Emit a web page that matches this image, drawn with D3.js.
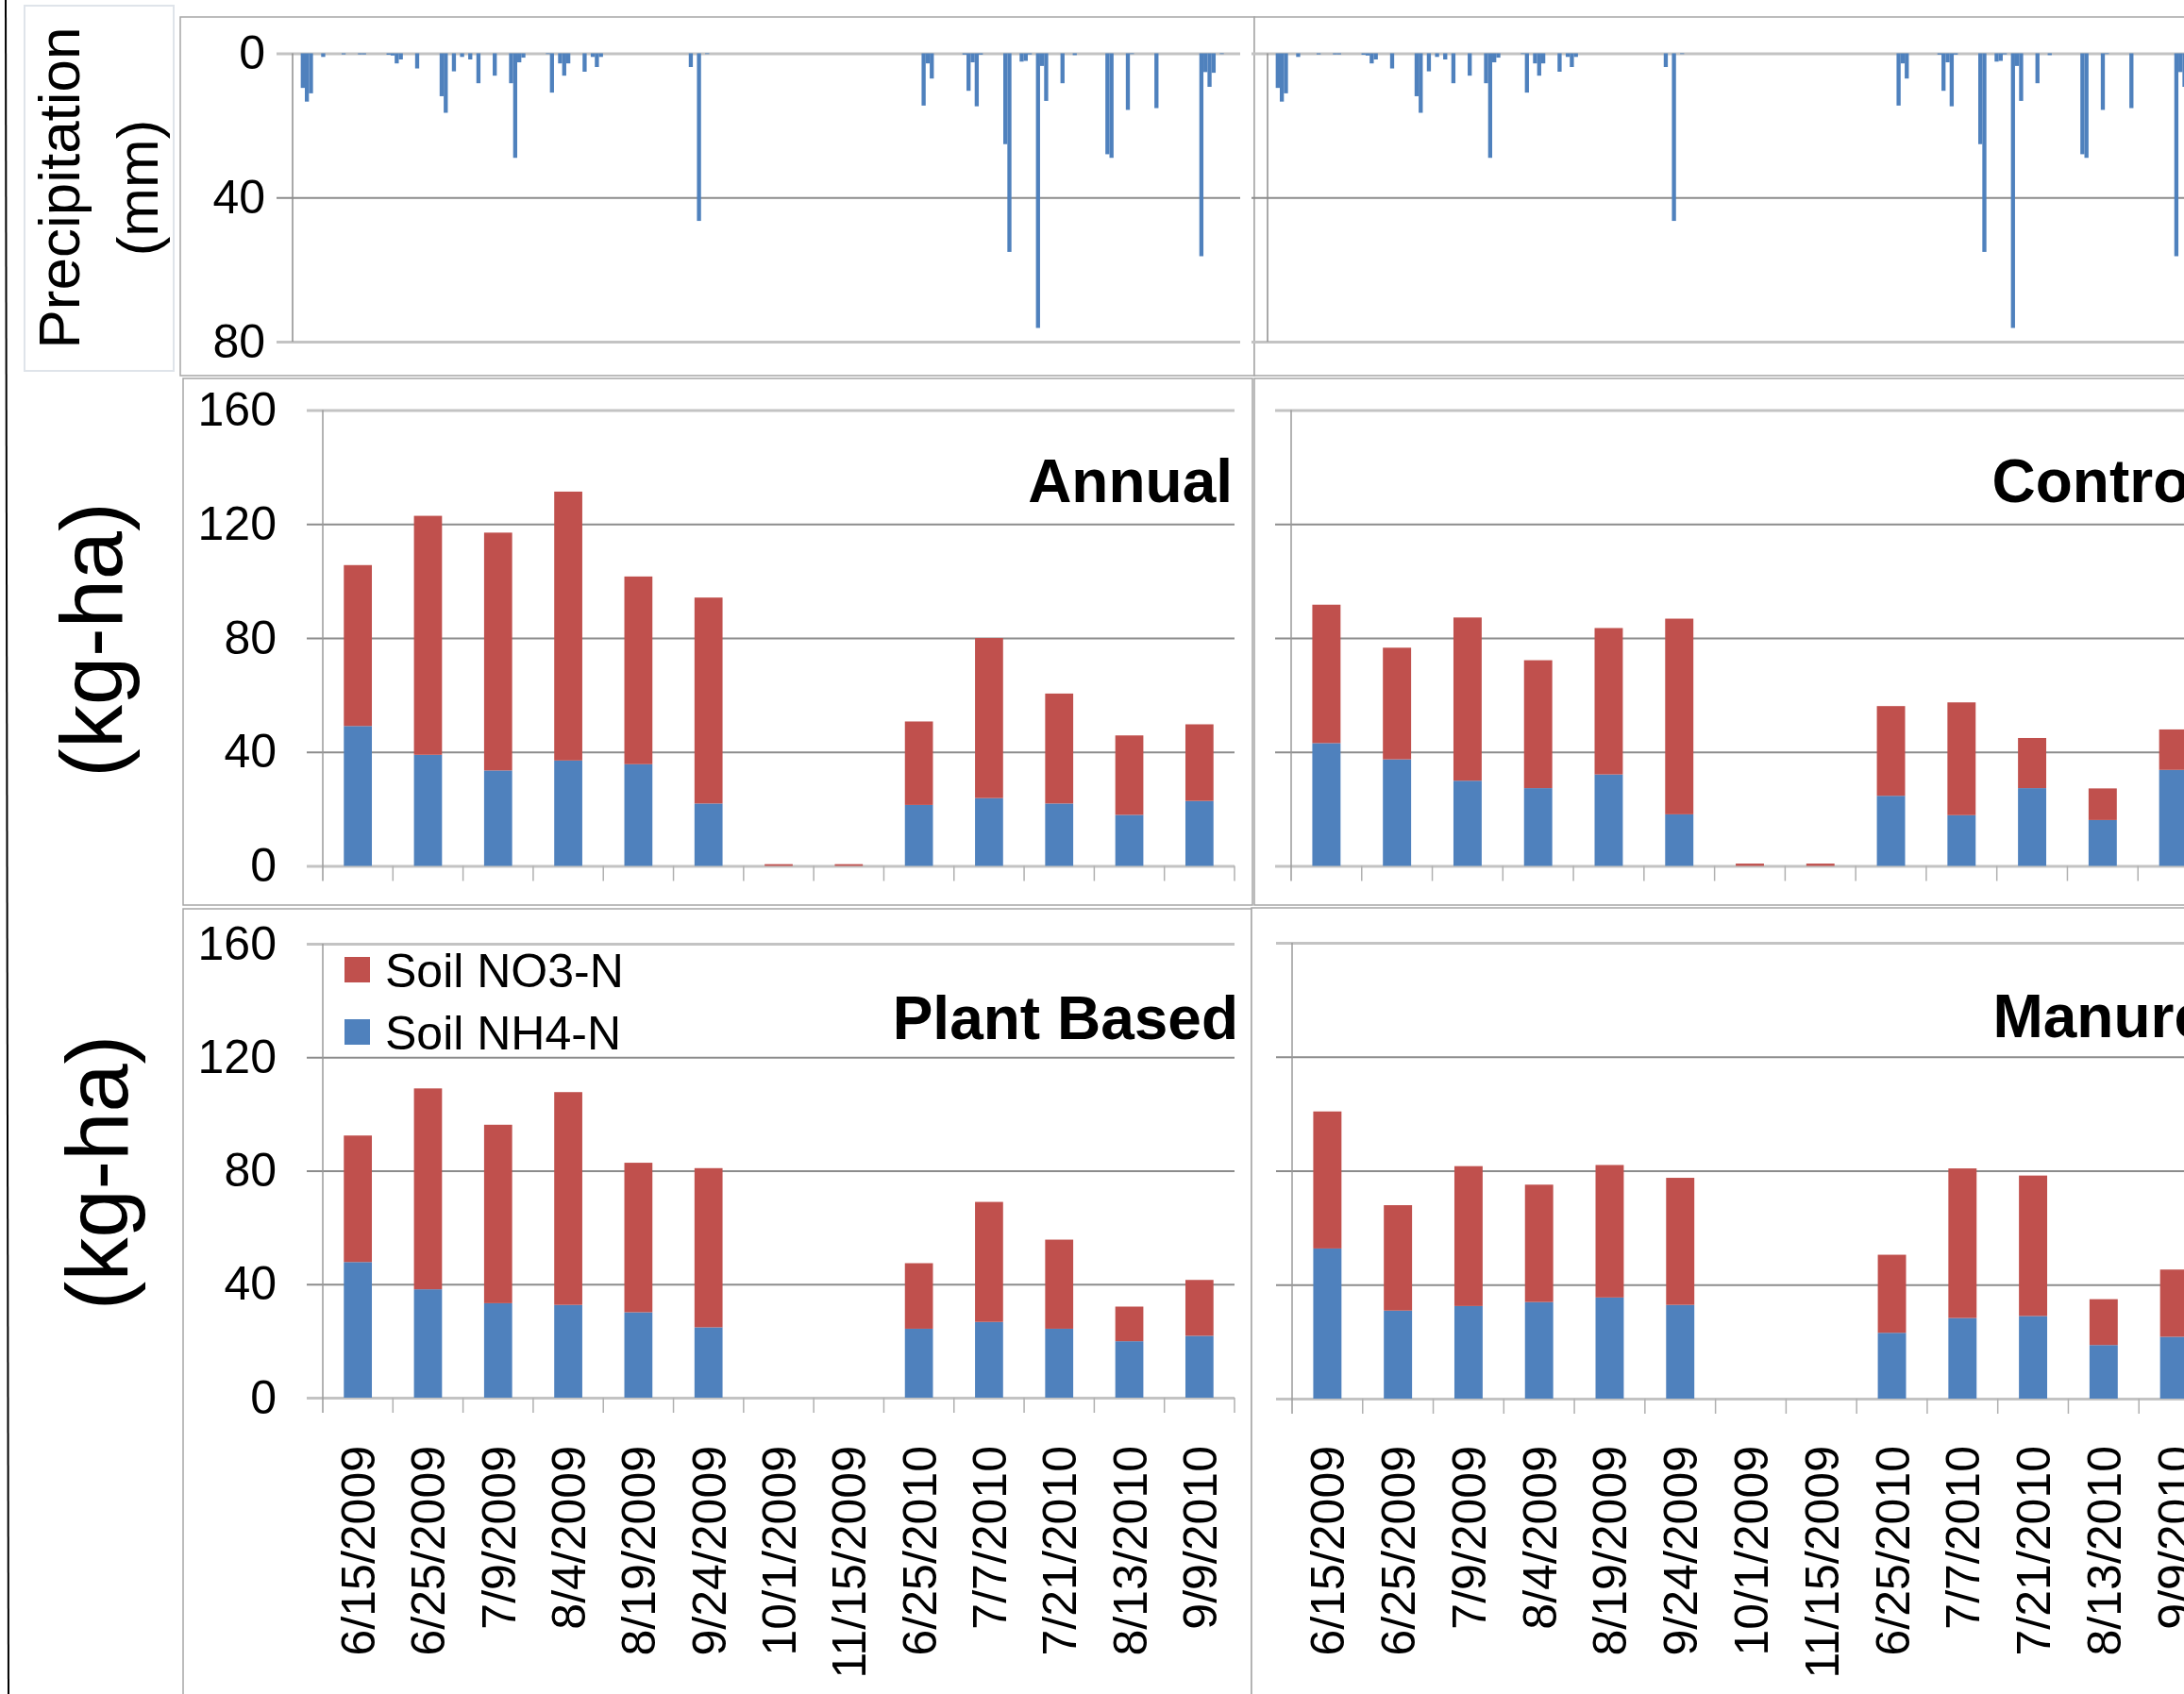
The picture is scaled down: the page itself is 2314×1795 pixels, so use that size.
<!DOCTYPE html>
<html>
<head>
<meta charset="utf-8">
<script src="https://cdn.jsdelivr.net/npm/d3@7/dist/d3.min.js"></script>
<style>
body { margin:0; background:#fff; }
svg { display:block; font-family:"Liberation Sans", Arial, sans-serif; }
</style>
</head>
<body>
<svg id="chart" width="2314" height="1795"></svg>
<script>
// sampling dates of the soil N measurements
var dates = ["6/15/2009","6/25/2009","7/9/2009","8/4/2009","8/19/2009","9/24/2009","10/1/2009","11/15/2009","6/25/2010","7/7/2010","7/21/2010","8/13/2010","9/9/2010"];

// soil N (kg-ha) by treatment
var annualNH4 = [49.1,39.0,33.5,37.0,35.7,21.9,0,0,21.4,23.8,21.9,17.9,22.8];
var annualNO3 = [56.5,83.9,83.5,94.4,65.9,72.3,0.6,0.6,29.3,56.2,38.6,27.9,26.9];
var controlNH4 = [43.1,37.4,29.9,27.3,32.1,18.1,0,0,24.6,17.8,27.3,16.1,33.7];
var controlNO3 = [48.6,39.2,57.3,44.9,51.4,68.7,0.8,0.8,31.5,39.6,17.6,11.1,14.2];
var plantNH4 = [47.8,38.2,33.3,32.7,30.1,24.8,0,0,24.3,26.7,24.3,19.9,21.8];
var plantNO3 = [44.6,70.8,62.9,75.0,52.7,56.1,0,0,23.1,42.3,31.4,12.2,19.7];
var manureNH4 = [52.7,30.9,32.5,33.9,35.5,32.9,0,0,23.1,28.3,29.0,18.8,21.7];
var manureNO3 = [48.1,37.0,49.1,41.2,46.5,44.6,0,0,27.4,52.5,49.3,16.1,23.6];

var seriesNames = ["Soil NO3-N","Soil NH4-N"];
var seriesColors = ["#C0504D","#4F81BD"];
var nTicks = [0,40,80,120,160];
var pTicks = [0,40,80];

// daily precipitation (mm), growing seasons 2009 and 2010
var precip = [
	0,0,9.6,13.4,11.1,0,0,1.0,0,0, 0,0,0.3,0,0,0,0.3,0.3,0,0,
	0,0,0,0.4,0.6,2.8,1.7,0,0,0, 4.2,0,0,0,0,0,11.9,16.5,0,5.0,
	0,1.0,0,1.7,0,8.3,0,0,0,6.2, 0,0,0,8.3,29.0,2.5,1.2,0,0,0,
	0,0,0.2,10.9,0,2.8,6.2,2.8,0,0, 0,5.1,0,1.0,3.8,1.0,0,0,0,0,
	0,0,0,0,0,0,0,0,0,0, 0,0,0,0,0,0,0,3.8,0,46.5,
	0,0.2,0,0,0,0,0,0,0,0, 0,0,0,0,0,0,0,0,0,0,
	0,0,0,0,0,0,0,0,0,0, 0,0,0,0,0,0,0,0,0,0,
	0,0,0,0,0,0,0,0,0,0, 0,0,0,0,14.5,2.8,7.0,0,0,0,
	0,0,0,0,0.35,10.4,2.5,14.7,0.35,0, 0,0,0,0,25.2,55.1,0,0,2.3,2.1,
	0.3,0,76.2,3.5,13.2,0,0,0,8.3,0, 0,0.5,0,0,0,0,0,0,0,28.0,
	29.0,0,0,0,15.7,0.2,0,0,0,0, 0,15.2,0,0,0,0,0,0,0,0,
	0,0,56.3,5.2,9.3,5.4,0,0.2,0,0, 0,0
];

var svg = d3.select("#chart");

// left border line of the figure
svg.append("line")
	.attr("x1",6).attr("y1",0).attr("x2",9).attr("y2",1795)
	.attr("stroke","#000").attr("stroke-width",2);

// precipitation label box
svg.append("rect")
	.attr("x",26).attr("y",6).attr("width",158).attr("height",387)
	.attr("fill","#fff").attr("stroke","#dfe4ea").attr("stroke-width",2);

var plab = svg.append("g").attr("transform","translate(0,199) rotate(-90)");
plab.append("text").attr("x",0).attr("y",84).attr("text-anchor","middle")
	.attr("font-size","62px").text("Precipitation");
plab.append("text").attr("x",0).attr("y",167).attr("text-anchor","middle")
	.attr("font-size","62px").text("(mm)");

function styleGrid(g){
	g.select(".domain").remove();
	g.selectAll(".tick line")
		.attr("stroke", function(d,i,n){ return (i==0 || i==n.length-1) ? "#c3c3c3" : "#8c8c8c"; })
		.attr("stroke-width", function(d,i,n){ return (i==0 || i==n.length-1) ? 3 : 2; });
	g.selectAll(".tick text").attr("fill","#000");
}

// precipitation panels
var precipPanels = [
	{frame:[191,18,1138,380], x0:310, labels:true},
	{frame:[1329,18,1100,380], x0:1343, labels:false}
];

precipPanels.forEach(function(p){
	var g = svg.append("g");
	g.append("rect")
		.attr("x",p.frame[0]).attr("y",p.frame[1]).attr("width",p.frame[2]).attr("height",p.frame[3])
		.attr("fill","#fff").attr("stroke","#a6a6a6").attr("stroke-width",1.5);

	var x = d3.scaleBand().domain(d3.range(precip.length)).range([p.x0, p.x0+1004]).padding(0);
	var y = d3.scaleLinear().domain([0,80]).range([56.5, 362]);

	var grid = g.append("g")
		.attr("transform","translate("+(p.x0-17)+",0)")
		.call(d3.axisLeft(y).tickValues(pTicks).tickSize(-(1004+17)).tickPadding(12)
			.tickFormat(p.labels ? d3.format("d") : function(){return "";}))
		.style("font-size","50px")
		.style("font-family","Liberation Sans, Arial, sans-serif");
	styleGrid(grid);
	if(!p.labels) grid.selectAll(".tick text").remove();

	g.append("line")
		.attr("x1",p.x0).attr("x2",p.x0).attr("y1",y(0)).attr("y2",y(80))
		.attr("stroke","#8c8c8c").attr("stroke-width",1.5);

	g.selectAll("rect.rain").data(precip).enter()
		.append("rect")
		.attr("class","rain")
		.attr("x", function(d,i){ return x(i); })
		.attr("y", y(0))
		.attr("width", x.bandwidth())
		.attr("height", function(d){ return y(d)-y(0); })
		.attr("fill", "#4F81BD");
});

// soil N panels
var panels = [
	{name:"Annual", nh4:annualNH4, no3:annualNO3, frame:[194,401,1133,558], x0:342, w:966, yTop:434.6, yBot:917.5, labels:true, showDates:false, legend:false, titleY:532, titleDx:-2, ytitleY:129},
	{name:"Control", nh4:controlNH4, no3:controlNO3, frame:[1329,401,1100,558], x0:1368, w:972, yTop:434.6, yBot:917.5, labels:false, showDates:false, legend:false, titleY:532, titleDx:-2},
	{name:"Plant Based", nh4:plantNH4, no3:plantNO3, frame:[194,963,1132,900], x0:342, w:966, yTop:1000, yBot:1481, labels:true, showDates:true, legend:true, titleY:1101, titleDx:4, ytitleY:135},
	{name:"Manure", nh4:manureNH4, no3:manureNO3, frame:[1326,962,1100,900], x0:1369, w:972, yTop:999, yBot:1482, labels:false, showDates:true, legend:false, titleY:1099, titleDx:-2}
];

panels.forEach(function(p){
	var g = svg.append("g");
	g.append("rect")
		.attr("x",p.frame[0]).attr("y",p.frame[1]).attr("width",p.frame[2]).attr("height",p.frame[3])
		.attr("fill","#fff").attr("stroke","#a6a6a6").attr("stroke-width",1.5);

	var x = d3.scaleBand().domain(dates).range([p.x0, p.x0+p.w]).paddingInner(0.6).paddingOuter(0.3);
	var y = d3.scaleLinear().domain([0,160]).range([p.yBot, p.yTop]);
	var step = x.step();

	var grid = g.append("g")
		.attr("transform","translate("+(p.x0-17)+",0)")
		.call(d3.axisLeft(y).tickValues(nTicks).tickSize(-(p.w+17)).tickPadding(32)
			.tickFormat(p.labels ? d3.format("d") : function(){return "";}))
		.style("font-size","50px")
		.style("font-family","Liberation Sans, Arial, sans-serif");
	styleGrid(grid);
	if(!p.labels) grid.selectAll(".tick text").remove();

	// y axis line and category ticks
	g.append("line")
		.attr("x1",p.x0).attr("x2",p.x0).attr("y1",y(160)).attr("y2",y(0)+16)
		.attr("stroke","#9a9a9a").attr("stroke-width",1.5);
	g.selectAll("line.ctick").data(dates).enter()
		.append("line")
		.attr("class","ctick")
		.attr("x1", function(d){ return x(d)-(step-x.bandwidth())/2+step; })
		.attr("x2", function(d){ return x(d)-(step-x.bandwidth())/2+step; })
		.attr("y1", y(0)).attr("y2", y(0)+16)
		.attr("stroke","#b0b0b0").attr("stroke-width",1.5);

	// stacked bars: NH4 at the bottom, NO3 on top
	var rows = dates.map(function(d,i){ return {date:d, nh4:p.nh4[i], no3:p.no3[i]}; });
	var stack = d3.stack().keys(["nh4","no3"])(rows);
	var colorOf = {nh4:seriesColors[1], no3:seriesColors[0]};

	g.selectAll("g.layer").data(stack).enter()
		.append("g")
		.attr("class","layer")
		.attr("fill", function(s){ return colorOf[s.key]; })
		.selectAll("rect").data(function(s){ return s; }).enter()
		.append("rect")
		.attr("x", function(d){ return x(d.data.date); })
		.attr("y", function(d){ return y(d[1]); })
		.attr("width", x.bandwidth())
		.attr("height", function(d){ return y(d[0])-y(d[1]); });

	// panel title
	g.append("text")
		.attr("x", p.x0+p.w+p.titleDx).attr("y", p.titleY)
		.attr("text-anchor","end")
		.attr("font-size","64px").attr("font-weight","bold")
		.text(p.name);

	// y axis title, only on the left panels
	if(p.labels){
		g.append("text")
			.attr("transform","translate(0,"+((p.yTop+p.yBot)/2+2)+") rotate(-90)")
			.attr("y", p.ytitleY)
			.attr("text-anchor","middle")
			.attr("font-size","92px")
			.text("(kg-ha)");
	}

	if(p.showDates){
		g.selectAll("text.date").data(dates).enter()
			.append("text")
			.attr("class","date")
			.attr("transform", function(d){ return "translate("+(x(d)+x.bandwidth()/2)+",1532) rotate(-90)"; })
			.attr("dy","0.36em")
			.attr("text-anchor","end")
			.attr("font-size","50px")
			.text(function(d){ return d; });
	}

	if(p.legend){
		var leg = g.selectAll("g.leg").data(seriesNames).enter()
			.append("g")
			.attr("class","leg")
			.attr("transform", function(d,i){ return "translate(365,"+(1014+i*66)+")"; });
		leg.append("rect")
			.attr("width",27).attr("height",27)
			.attr("fill", function(d,i){ return seriesColors[i]; });
		leg.append("text")
			.attr("x",43).attr("y",32)
			.attr("font-size","50px")
			.text(function(d){ return d; });
	}
});
</script>
</body>
</html>
